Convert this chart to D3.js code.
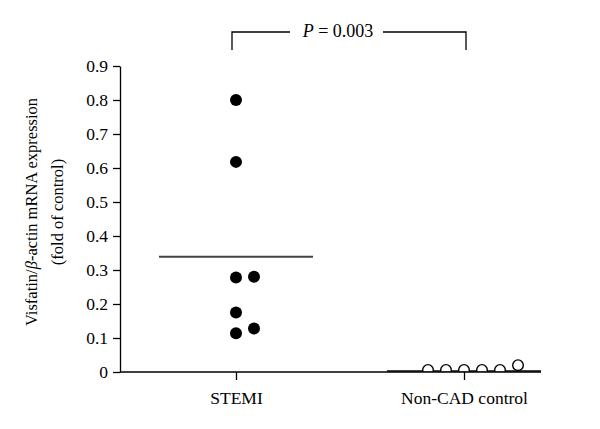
<!DOCTYPE html>
<html>
<head>
<meta charset="utf-8">
<script src="https://cdn.jsdelivr.net/npm/d3@7"></script>
<style>
  body { margin: 0; background: #fff; }
  svg { font-family: "Liberation Serif", "DejaVu Serif", serif; }
</style>
</head>
<body>
<div id="chart"></div>
<script>
// groups and values
const categories = ["STEMI", "Non-CAD control"];
const stemiValues = [0.80, 0.618, 0.278, 0.28, 0.175, 0.114, 0.128];
const controlValues = [0.006, 0.006, 0.006, 0.006, 0.006, 0.02];
const meanValues = [0.339, 0.003];
const yTicks = [0, 0.1, 0.2, 0.3, 0.4, 0.5, 0.6, 0.7, 0.8, 0.9];
const pLabel = "0.003";

const width = 600;
const height = 429;
const margin = { top: 66, bottom: 57, left: 120, right: 59 };

const svg = d3.select("#chart")
  .append("svg")
  .attr("width", width)
  .attr("height", height);

const x = d3.scalePoint()
  .domain(categories)
  .range([236, 464]);

const y = d3.scaleLinear()
  .domain([0, 0.9])
  .range([height - margin.bottom, margin.top]);

const r = 6;
const slotStep = 18;

// simple dodge: ascending values, try slots 0, +1, -1, +2, -2 ...
const dodge = values => {
  const placed = [];
  const sorted = values.map(v => v).sort(d3.ascending);
  sorted.forEach(v => {
    for (let k = 0; k < 20; k++) {
      const slot = k === 0 ? 0 : (k % 2 ? (k + 1) / 2 : -k / 2);
      const hit = placed.some(p => p.slot === slot && Math.abs(y(p.v) - y(v)) < 2 * r + 1);
      if (!hit) { placed.push({ v, slot }); break; }
    }
  });
  return placed;
};

const groups = [
  { name: categories[0], points: dodge(stemiValues), filled: true },
  { name: categories[1], points: dodge(controlValues), filled: false }
];

svg.append("clipPath")
  .attr("id", "plot-clip")
  .append("rect")
  .attr("x", margin.left)
  .attr("y", 0)
  .attr("width", width - margin.left)
  .attr("height", y(0) - 0.5);

// mean lines
svg.append("g")
  .selectAll("line")
  .data(categories)
  .join("line")
    .attr("x1", d => x(d) - 77)
    .attr("x2", d => x(d) + 77)
    .attr("y1", (d, i) => y(meanValues[i]))
    .attr("y2", (d, i) => y(meanValues[i]))
    .attr("stroke", "#444")
    .attr("stroke-width", 2);

// points
groups.forEach(g => {
  svg.append("g")
    .attr("clip-path", g.filled ? null : "url(#plot-clip)")
    .selectAll("circle")
    .data(g.points)
    .join("circle")
      .attr("cx", d => x(g.name) + d.slot * slotStep)
      .attr("cy", d => y(d.v))
      .attr("r", g.filled ? r : 5.3)
      .attr("fill", g.filled ? "#000" : "#fff")
      .attr("stroke", "#000")
      .attr("stroke-width", g.filled ? 0 : 1.4);
});

const xAxis = g => {
  g
    .attr("transform", `translate(0, ${y(0)})`)
    .call(d3.axisBottom(x).tickSizeOuter(0).tickSizeInner(8).tickPadding(12))
    .attr("font-size", "17.5px")
    .attr("font-family", null);
  g.select(".domain").attr("d", `M${margin.left},0H${width - margin.right}`);
  g.selectAll("line, path").attr("stroke", "#000").attr("stroke-width", 1.3);
  g.selectAll("text").attr("fill", "#000");
};

const yAxis = g => {
  g
    .attr("transform", `translate(${margin.left}, 0)`)
    .call(d3.axisLeft(y).tickValues(yTicks).tickFormat(d => d === 0 ? "0" : d3.format(".1f")(d))
      .tickSizeOuter(0).tickSizeInner(7).tickPadding(5))
    .attr("font-size", "17.5px")
    .attr("font-family", null);
  g.selectAll("line, path").attr("stroke", "#000").attr("stroke-width", 1.3);
  g.selectAll("text").attr("fill", "#000");
};

svg.append("g").call(xAxis);
svg.append("g").call(yAxis);

// y title, two lines
const title = svg.append("text")
  .attr("transform", "translate(37, 212) rotate(-90)")
  .attr("text-anchor", "middle")
  .attr("font-size", "16.5px");
title.append("tspan").attr("x", 0).attr("dy", 0).text("Visfatin/");
title.append("tspan").attr("font-style", "italic").text("β");
title.append("tspan").text("-actin mRNA expression");
svg.append("text")
  .attr("transform", "translate(63, 212) rotate(-90)")
  .attr("text-anchor", "middle")
  .attr("font-size", "16.5px")
  .text("(fold of control)");

// significance bracket
const bTop = 32, bBot = 50;
const xa = x(categories[0]) - 4, xb = x(categories[1]) + 2;
const bracket = svg.append("g").attr("stroke", "#000").attr("stroke-width", 1.3).attr("fill", "none");
bracket.append("path").attr("d", `M${xa},${bBot}V${bTop}H290`);
bracket.append("path").attr("d", `M383,${bTop}H${xb}V${bBot}`);

const pText = svg.append("text")
  .attr("x", (xa + xb) / 2 - 11)
  .attr("y", 37)
  .attr("text-anchor", "middle")
  .attr("font-size", "18px");
pText.append("tspan").attr("font-style", "italic").text("P");
pText.append("tspan").text(" = " + pLabel);
</script>
</body>
</html>
